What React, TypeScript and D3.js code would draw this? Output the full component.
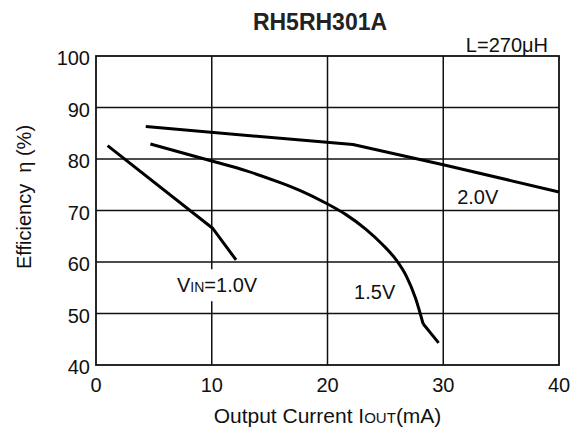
import React, { useEffect, useRef } from 'react';
import * as d3 from 'd3';

interface Point {
  current: number;
  eff: number;
}

// Efficiency curves
const vin10: Point[] = [
  { current: 1.0, eff: 82.6 },
  { current: 10.1, eff: 66.5 },
  { current: 12.1, eff: 60.4 },
];

const vin15: Point[] = [
  { current: 4.7, eff: 82.9 },
  { current: 10.0, eff: 79.6 },
  { current: 13.0, eff: 77.7 },
  { current: 15.8, eff: 75.5 },
  { current: 17.6, eff: 73.9 },
  { current: 19.8, eff: 71.5 },
  { current: 21.6, eff: 69.2 },
  { current: 23.3, eff: 66.4 },
  { current: 24.75, eff: 63.4 },
  { current: 25.9, eff: 60.5 },
  { current: 26.8, eff: 57.3 },
  { current: 27.6, eff: 53.0 },
  { current: 28.26, eff: 48.0 },
];

// short straight tail after the kink of the 1.5V curve
const vin15Tail: Point[] = [
  { current: 28.26, eff: 48.0 },
  { current: 29.6, eff: 44.3 },
];

const vin20: Point[] = [
  { current: 4.3, eff: 86.3 },
  { current: 22.2, eff: 82.8 },
  { current: 30.0, eff: 78.9 },
  { current: 40.0, eff: 73.6 },
];

const xTicks = [0, 10, 20, 30, 40];
const yTicks = [40, 50, 60, 70, 80, 90, 100];

const FONT = '"Liberation Sans", Arial, sans-serif';

const App: React.FC = () => {
  const svgRef = useRef<SVGSVGElement>(null);
  const width = 580;
  const height = 437;

  useEffect(() => {
    if (!svgRef.current) return;
    const svg = d3.select(svgRef.current);
    svg.selectAll('*').remove();

    const margin = { top: 56, right: 21, bottom: 72, left: 96 };
    const innerWidth = width - margin.left - margin.right;
    const innerHeight = height - margin.top - margin.bottom;

    const x = d3.scaleLinear().domain([0, 40]).range([0, innerWidth]);
    const y = d3.scaleLinear().domain([40, 100]).range([innerHeight, 0]);

    const g = svg.append('g')
      .attr('transform', `translate(${margin.left},${margin.top})`);

    // grid
    g.selectAll('.vgrid')
      .data(xTicks.slice(1, -1))
      .enter().append('line')
      .attr('x1', d => x(d)).attr('x2', d => x(d))
      .attr('y1', 0).attr('y2', innerHeight)
      .attr('stroke', '#111').attr('stroke-width', 1.5);

    g.selectAll('.hgrid')
      .data(yTicks.slice(1, -1))
      .enter().append('line')
      .attr('x1', 0).attr('x2', innerWidth)
      .attr('y1', d => y(d)).attr('y2', d => y(d))
      .attr('stroke', '#111').attr('stroke-width', 1.5);

    g.append('rect')
      .attr('width', innerWidth).attr('height', innerHeight)
      .attr('fill', 'none').attr('stroke', '#111').attr('stroke-width', 1.8);

    // tick labels
    g.selectAll('.xlab')
      .data(xTicks)
      .enter().append('text')
      .attr('x', d => x(d))
      .attr('y', innerHeight + 27)
      .attr('text-anchor', 'middle')
      .style('font-family', FONT).style('font-size', '20px').attr('fill', '#111')
      .text(d => d);

    g.selectAll('.ylab')
      .data(yTicks)
      .enter().append('text')
      .attr('x', -6)
      .attr('y', d => y(d) + 9)
      .attr('text-anchor', 'end')
      .style('font-family', FONT).style('font-size', '20px').attr('fill', '#111')
      .text(d => d);

    // curves
    const straight = d3.line<Point>()
      .x(d => x(d.current))
      .y(d => y(d.eff));
    const smooth = d3.line<Point>()
      .x(d => x(d.current))
      .y(d => y(d.eff))
      .curve(d3.curveMonotoneX);

    [vin10, vin20, vin15Tail].forEach(series => {
      g.append('path').datum(series)
        .attr('fill', 'none').attr('stroke', '#000').attr('stroke-width', 3)
        .attr('stroke-linejoin', 'round')
        .attr('d', straight);
    });

    g.append('path').datum(vin15)
      .attr('fill', 'none').attr('stroke', '#000').attr('stroke-width', 3)
      .attr('d', smooth);

    // curve labels (the VIN one sits on a white box that hides the grid)
    g.append('rect')
      .attr('x', x(6.4)).attr('y', y(58.6))
      .attr('width', 100).attr('height', 32)
      .attr('fill', '#fff');

    const vinLabel = g.append('text')
      .attr('x', x(7.0)).attr('y', y(54.2))
      .style('font-family', FONT).style('font-size', '20px').attr('fill', '#111');
    vinLabel.append('tspan').text('V');
    vinLabel.append('tspan').style('font-size', '14px').text('IN');
    vinLabel.append('tspan').text('=1.0V');

    g.append('text')
      .attr('x', x(22.3)).attr('y', y(52.8))
      .style('font-family', FONT).style('font-size', '20px').attr('fill', '#111')
      .text('1.5V');

    g.append('text')
      .attr('x', x(31.2)).attr('y', y(71.3))
      .style('font-family', FONT).style('font-size', '20px').attr('fill', '#111')
      .text('2.0V');

    // titles
    svg.append('text')
      .attr('x', 320).attr('y', 30)
      .attr('text-anchor', 'middle')
      .style('font-family', FONT).style('font-size', '23px').style('font-weight', 'bold')
      .attr('fill', '#222')
      .text('RH5RH301A');

    svg.append('text')
      .attr('x', 548).attr('y', 52)
      .attr('text-anchor', 'end')
      .style('font-family', FONT).style('font-size', '20px').attr('fill', '#111')
      .text('L=270μH');

    const xTitle = svg.append('text')
      .attr('x', margin.left + innerWidth / 2).attr('y', 423)
      .attr('text-anchor', 'middle')
      .style('font-family', FONT).style('font-size', '21px').attr('fill', '#111');
    xTitle.append('tspan').text('Output Current I');
    xTitle.append('tspan').style('font-size', '15px').text('OUT');
    xTitle.append('tspan').text('(mA)');

    svg.append('text')
      .attr('transform', 'rotate(-90)')
      .attr('x', -197).attr('y', 31)
      .attr('text-anchor', 'middle')
      .style('font-family', FONT).style('font-size', '20px').attr('fill', '#111')
      .attr('xml:space', 'preserve')
      .text('Efficiency  η (%)');
  }, []);

  return (
    <svg
      ref={svgRef}
      width={width}
      height={height}
      style={{ position: 'absolute', left: 0, top: 0, background: '#fff' }}
    />
  );
};

export default App;
